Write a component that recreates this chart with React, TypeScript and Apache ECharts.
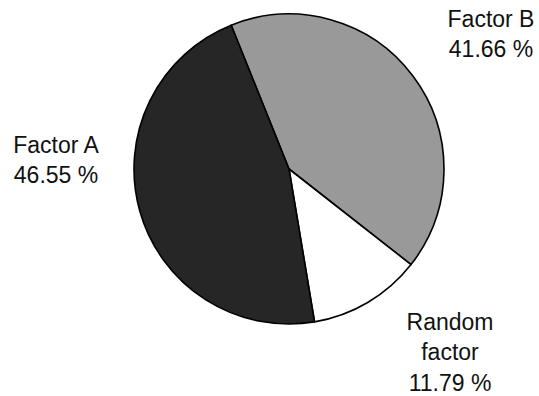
import React, { useEffect, useRef } from "react";
import * as echarts from "echarts";

// Variance components (percent of total)
const categories = ["Factor B", "Random\nfactor", "Factor A"];
const shares = [41.66, 11.79, 46.55];
const sliceColors = ["#999999", "#ffffff", "#262626"];

// Label anchor points (block centres) for each slice
const labelAnchors = [
  { x: 491, y: 34 },
  { x: 450, y: 352 },
  { x: 56, y: 160 },
];

export default function App() {
  const ref = useRef<HTMLDivElement>(null);

  useEffect(() => {
    if (!ref.current) return;
    const chart = echarts.init(ref.current, undefined, { renderer: "svg" });
    chart.setOption({
      animation: false,
      backgroundColor: "#ffffff",
      series: [
        {
          type: "pie",
          center: [289, 169],
          radius: [0, 155],
          startAngle: 111.9,
          clockwise: true,
          avoidLabelOverlap: false,
          data: categories.map((name, i) => ({
            name,
            value: shares[i],
            itemStyle: { color: sliceColors[i] },
          })),
          itemStyle: { borderColor: "#000000", borderWidth: 1.6 },
          emphasis: { disabled: true },
          label: {
            show: true,
            formatter: (p: any) => `${p.name}\n${Number(p.value).toFixed(2)} %`,
            fontFamily: "'Liberation Sans', Arial, sans-serif",
            fontSize: 23,
            lineHeight: 30.5,
            color: "#111111",
            align: "center",
          },
          labelLine: { show: false },
          labelLayout: (params: any) => {
            const a = labelAnchors[params.dataIndex];
            return { x: a.x, y: a.y, align: "center", verticalAlign: "middle" };
          },
        },
      ],
    });
    return () => chart.dispose();
  }, []);

  return (
    <div
      ref={ref}
      style={{ position: "fixed", left: 0, top: 0, width: 539, height: 396 }}
    />
  );
}
